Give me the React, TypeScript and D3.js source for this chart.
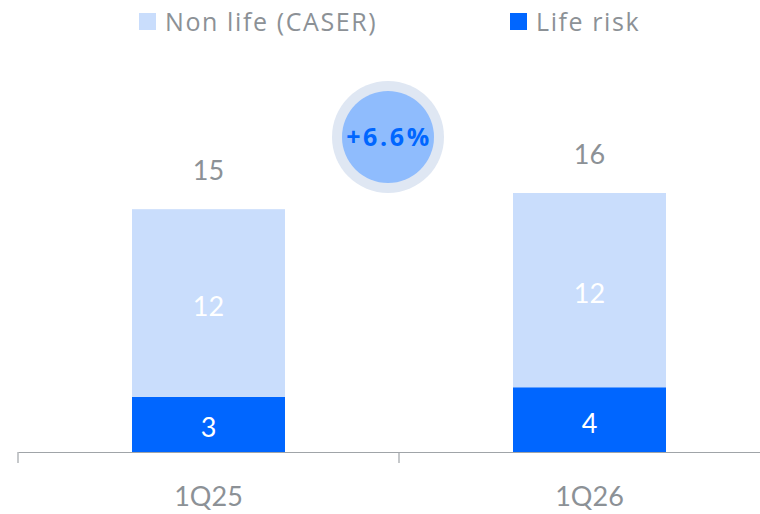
import { useEffect, useRef } from "react";
import * as d3 from "d3";

const categories = ["1Q25", "1Q26"];
const lifeRisk = [3.4, 4.0];
const nonLife = [11.6, 12.0];
const lifeLabels = ["3", "4"];
const nonLifeLabels = ["12", "12"];
const totalLabels = ["15", "16"];
const seriesNames = ["Non life (CASER)", "Life risk"];
const growthLabel = "+6.6%";

const W = 760;
const H = 514;

export default function App() {
  const svgRef = useRef<SVGSVGElement>(null);

  useEffect(() => {
    const svg = d3.select(svgRef.current);
    svg.selectAll("*").remove();

    const margin = { top: 60, right: -20, bottom: 62, left: 18 };
    const baseY = H - margin.bottom;

    const x = d3
      .scaleBand()
      .domain(categories)
      .range([margin.left, W - margin.right])
      .paddingInner(0)
      .paddingOuter(0);

    const y = d3.scaleLinear().domain([0, 16]).range([baseY, baseY - 259]);

    const barW = 153;
    const gray = "#8c9196";
    const font = "Lato, 'Open Sans', sans-serif";
    const wideFont = "'Open Sans', 'DejaVu Sans', sans-serif";
    const colNon = "#c9ddfc";
    const colLife = "#0066ff";

    const g = svg.append("g");

    categories.forEach((c, i) => {
      const cx = (x(c) || 0) + x.bandwidth() / 2;
      const x0 = cx - barW / 2;
      const top = lifeRisk[i] + nonLife[i];
      g.append("rect")
        .attr("x", x0)
        .attr("y", y(lifeRisk[i]))
        .attr("width", barW)
        .attr("height", y(0) - y(lifeRisk[i]))
        .attr("fill", colLife);
      g.append("rect")
        .attr("x", x0)
        .attr("y", y(top))
        .attr("width", barW)
        .attr("height", y(lifeRisk[i]) - y(top))
        .attr("fill", colNon);
      g.append("text")
        .attr("x", cx)
        .attr("y", (y(0) + y(lifeRisk[i])) / 2 + 13)
        .attr("text-anchor", "middle")
        .attr("fill", "#fff")
        .attr("font-size", 27)
        .attr("font-family", font)
        .text(lifeLabels[i]);
      g.append("text")
        .attr("x", cx)
        .attr("y", (y(lifeRisk[i]) + y(top)) / 2 + 13)
        .attr("text-anchor", "middle")
        .attr("fill", "#fff")
        .attr("font-size", 27)
        .attr("font-family", font)
        .text(nonLifeLabels[i]);
      g.append("text")
        .attr("x", cx)
        .attr("y", y(top) - 29)
        .attr("text-anchor", "middle")
        .attr("fill", gray)
        .attr("font-size", 27)
        .attr("font-family", font)
        .text(totalLabels[i]);
    });

    // axis
    const axis = g
      .append("g")
      .attr("transform", `translate(0,${baseY})`)
      .call(d3.axisBottom(x).tickSize(0).tickPadding(35));
    axis.select(".domain").attr("stroke", "#a0a4a8").attr("stroke-width", 1.2);
    axis
      .selectAll(".tick text")
      .attr("fill", gray)
      .attr("font-size", 27)
      .attr("font-family", font);
    g.selectAll(".sep")
      .data([margin.left, x("1Q26") || 0])
      .enter()
      .append("line")
      .attr("x1", (d) => d)
      .attr("x2", (d) => d)
      .attr("y1", baseY)
      .attr("y2", baseY + 11)
      .attr("stroke", "#a0a4a8")
      .attr("stroke-width", 1.2);

    // legend
    const legend = [
      { name: seriesNames[0], color: colNon, x: 139 },
      { name: seriesNames[1], color: colLife, x: 510 },
    ];
    legend.forEach((l) => {
      g.append("rect")
        .attr("x", l.x)
        .attr("y", 13)
        .attr("width", 17)
        .attr("height", 17)
        .attr("fill", l.color);
      g.append("text")
        .attr("x", l.x + 26)
        .attr("y", 31)
        .attr("fill", gray)
        .attr("font-size", 25)
        .attr("letter-spacing", 1.6)
        .attr("font-family", wideFont)
        .text(l.name);
    });

    // growth badge
    const bx = 388;
    const by = 137;
    g.append("circle").attr("cx", bx).attr("cy", by).attr("r", 56).attr("fill", "#dfe7f3");
    g.append("circle").attr("cx", bx).attr("cy", by).attr("r", 46).attr("fill", "#8fbcfd");
    g.append("text")
      .attr("x", bx + 1)
      .attr("y", by + 9)
      .attr("text-anchor", "middle")
      .attr("fill", "#0066ff")
      .attr("font-size", 25)
      .attr("font-weight", "bold")
      .attr("letter-spacing", 2.6)
      .attr("font-family", wideFont)
      .text(growthLabel);
  }, []);

  return (
    <svg
      ref={svgRef}
      width={W}
      height={H}
      style={{ position: "absolute", left: 0, top: 0, background: "#fff" }}
    />
  );
}
